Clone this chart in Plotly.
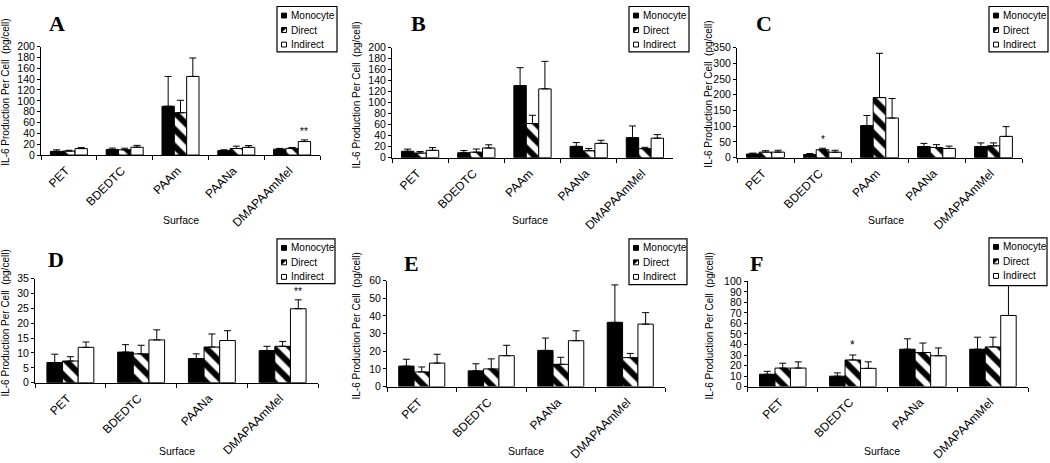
import plotly.graph_objects as go

W, H = 1050, 463

surfaces_all = ["PET", "BDEDTC", "PAAm", "PAANa", "DMAPAAmMel"]
series_names = ["Monocyte", "Direct", "Indirect"]

# Data set 1 (panels A and D)
set1_monocyte = [6.8, 10.3, 90, 8.1, 10.8]
set1_monocyte_err = [2.8, 2.5, 55, 1.6, 1.45]
set1_direct = [7.3, 9.7, 78, 12.0, 12.25]
set1_direct_err = [1.45, 2.9, 23, 4.4, 1.65]
set1_indirect = [11.9, 14.4, 145, 14.2, 24.9]
set1_indirect_err = [1.8, 3.4, 34, 3.3, 3.0]

# Data set 2 (panels B and E)
set2_monocyte = [11.6, 8.9, 131, 20.5, 36.4]
set2_monocyte_err = [3.9, 4.0, 32.5, 7.0, 21.2]
set2_direct = [8.3, 10.0, 62, 12.6, 16.4]
set2_direct_err = [2.8, 5.7, 15, 4.0, 2.4]
set2_indirect = [13.3, 17.5, 125, 26.0, 35.4]
set2_indirect_err = [5.0, 5.9, 50, 5.6, 6.5]

# Data set 3 (panels C and F)
set3_monocyte = [11.7, 9.9, 102, 35.5, 35.5]
set3_monocyte_err = [2.8, 3.1, 32, 9.9, 11.4]
set3_direct = [17.6, 25.3, 191, 32.4, 37.7]
set3_direct_err = [4.6, 4.7, 141, 9.0, 9.2]
set3_indirect = [17.6, 17.3, 126, 29.3, 67.6]
set3_indirect_err = [5.9, 6.2, 62, 7.4, 31]

sets = {
    1: [(set1_monocyte, set1_monocyte_err), (set1_direct, set1_direct_err), (set1_indirect, set1_indirect_err)],
    2: [(set2_monocyte, set2_monocyte_err), (set2_direct, set2_direct_err), (set2_indirect, set2_indirect_err)],
    3: [(set3_monocyte, set3_monocyte_err), (set3_direct, set3_direct_err), (set3_indirect, set3_indirect_err)],
}

four = ["PET", "BDEDTC", "PAANa", "DMAPAAmMel"]

panels = [
    dict(letter="A", set=1, surf=surfaces_all, xpx=(41, 320), ypx=(41.7, 153), ymax=200, dtick=20,
         letter_pos=(57, 18), ytitle_pos=(6, 89), surf_pos=(180.5, 220), legend=(277, 0.5, 337, 47),
         star=("DMAPAAmMel", 2, "**", 10)),
    dict(letter="B", set=2, surf=surfaces_all, xpx=(392, 673), ypx=(42.7, 155.7), ymax=200, dtick=20,
         letter_pos=(418, 18), ytitle_pos=(357, 92), surf_pos=(530, 220), legend=(629, 0.5, 689, 47),
         star=None),
    dict(letter="C", set=3, surf=surfaces_all, xpx=(737, 1022), ypx=(42.7, 155.7), ymax=350, dtick=50,
         letter_pos=(764, 18), ytitle_pos=(709, 91), surf_pos=(886, 220), legend=(989, 0.5, 1048, 47),
         star=("BDEDTC", 1, "*", 10)),
    dict(letter="D", set=1, surf=four, xpx=(35, 318), ypx=(280, 386.7), ymax=35, dtick=5,
         letter_pos=(56, 260), ytitle_pos=(6, 326), surf_pos=(177, 457), legend=(277, 239, 335, 285),
         star=("DMAPAAmMel", 2, "**", 10)),
    dict(letter="E", set=2, surf=four, xpx=(387, 665), ypx=(282, 390.7), ymax=60, dtick=10,
         letter_pos=(411, 264), ytitle_pos=(356, 329), surf_pos=(526, 457), legend=(629, 239, 687, 286),
         star=None),
    dict(letter="F", set=3, surf=four, xpx=(747.7, 1028), ypx=(282.7, 390.7), ymax=100, dtick=10,
         letter_pos=(756, 264), ytitle_pos=(709, 329), surf_pos=(882, 457), legend=(989, 238, 1047, 287),
         star=("BDEDTC", 1, "*", 12)),
]

BARGAP = 0.337
FONT = "Liberation Sans, Arial, sans-serif"


def px(x):
    return x / W


def py(y):
    return 1 - y / H


styles = [
    dict(color="black", line=dict(color="black", width=1)),
    dict(color="white", line=dict(color="black", width=1),
         pattern=dict(shape="\\", fgcolor="black", bgcolor="white", fgopacity=1, size=12,
                      solidity=0.5, fillmode="replace")),
    dict(color="white", line=dict(color="black", width=1)),
]

fig = go.Figure()
layout = dict(
    width=W, height=H, margin=dict(l=0, r=0, t=0, b=0),
    paper_bgcolor="white", plot_bgcolor="white",
    barmode="group", bargap=BARGAP, bargroupgap=0, showlegend=False,
    font=dict(family=FONT, color="black", size=10),
)
annotations = []
shapes = []

for i, p in enumerate(panels):
    k = "" if i == 0 else str(i + 1)
    xa, ya = "x" + k, "y" + k
    idx = [surfaces_all.index(s) for s in p["surf"]]
    cats = [surfaces_all[j] for j in idx]
    for (vals, errs), name, st in zip(sets[p["set"]], series_names, styles):
        fig.add_trace(go.Bar(
            x=cats, y=[vals[j] for j in idx], name=name, xaxis=xa, yaxis=ya,
            marker=st, showlegend=False,
            error_y=dict(type="data", symmetric=False, array=[errs[j] for j in idx],
                         arrayminus=[0] * len(idx), color="black", thickness=1, width=3.5),
        ))
    x0, x1 = p["xpx"]
    y0, y1 = p["ypx"]
    layout["xaxis" + k] = dict(
        domain=[px(x0), px(x1)], anchor=ya, type="category", showline=True, linecolor="black",
        linewidth=1, ticks="outside", tickson="boundaries", ticklen=4, tickcolor="black",
        tickangle=-45, tickfont=dict(size=12, family=FONT, color="black"), showgrid=False,
        zeroline=False, ticklabelstandoff=3, ticklabelshift=-3,
    )
    layout["yaxis" + k] = dict(
        domain=[py(y1), py(y0)], anchor=xa, range=[0, p["ymax"]], dtick=p["dtick"], showline=True,
        linecolor="black", linewidth=1, ticks="outside", ticklen=3, tickcolor="black",
        tickfont=dict(size=10.5, family=FONT, color="black"), showgrid=False, zeroline=False,
    )
    # panel letter
    annotations.append(dict(text="<b>%s</b>" % p["letter"], xref="paper", yref="paper",
                            x=px(p["letter_pos"][0]), y=py(p["letter_pos"][1]), showarrow=False,
                            xanchor="center", yanchor="middle",
                            font=dict(family="Liberation Serif, Times New Roman, serif", size=22,
                                      color="black")))
    # y title
    annotations.append(dict(text="IL-6 Production Per Cell  (pg/cell)", xref="paper", yref="paper",
                            x=px(p["ytitle_pos"][0]), y=py(p["ytitle_pos"][1]), showarrow=False,
                            textangle=-90, xanchor="center", yanchor="middle",
                            font=dict(size=10, color="black")))
    # x title
    annotations.append(dict(text="Surface", xref="paper", yref="paper",
                            x=px(p["surf_pos"][0]), y=py(p["surf_pos"][1]), showarrow=False,
                            xanchor="center", yanchor="middle", font=dict(size=10.5, color="black")))
    # significance marks
    if p["star"]:
        cat, si, txt, fs = p["star"]
        ncat = len(p["surf"])
        barw = (x1 - x0) / ncat * (1 - BARGAP) / 3
        vals, errs = sets[p["set"]][si]
        j = surfaces_all.index(cat)
        annotations.append(dict(text=txt, xref=xa, yref=ya, x=cat, y=vals[j] + errs[j],
                                xshift=(si - 1) * barw, yshift=1, showarrow=False,
                                xanchor="center", yanchor="bottom",
                                font=dict(size=fs, color="black")))
    # legend box
    lx0, ly0, lx1, ly1 = p["legend"]
    shapes.append(dict(type="rect", xref="paper", yref="paper", x0=px(lx0), x1=px(lx1),
                       y0=py(ly1), y1=py(ly0), line=dict(color="black", width=1.2),
                       fillcolor="white", layer="above"))
    for r, name in enumerate(series_names):
        cy = ly0 + 9.3 + r * 14.9
        sx0, sx1 = lx0 + 4.5, lx0 + 9.5
        shapes.append(dict(type="rect", xref="paper", yref="paper", x0=px(sx0), x1=px(sx1),
                           y0=py(cy + 2.5), y1=py(cy - 2.5), line=dict(color="black", width=1),
                           fillcolor="black" if r == 0 else "white", layer="above"))
        if r == 1:
            path = "M %f,%f L %f,%f L %f,%f Z" % (px(sx0), py(cy - 2.5), px(sx1), py(cy - 2.5),
                                                  px(sx0), py(cy + 2.5))
            shapes.append(dict(type="path", xref="paper", yref="paper", path=path,
                               fillcolor="black", line=dict(color="black", width=0.5), layer="above"))
        annotations.append(dict(text=name, xref="paper", yref="paper", x=px(lx0 + 11.5), y=py(cy),
                                showarrow=False, xanchor="left", yanchor="middle",
                                font=dict(size=10, color="black")))

layout["annotations"] = annotations
layout["shapes"] = shapes
fig.update_layout(**layout)
fig.write_html("out.html", config={"displayModeBar": False},
               post_script="document.body.style.margin='0';document.body.style.padding='0';")
